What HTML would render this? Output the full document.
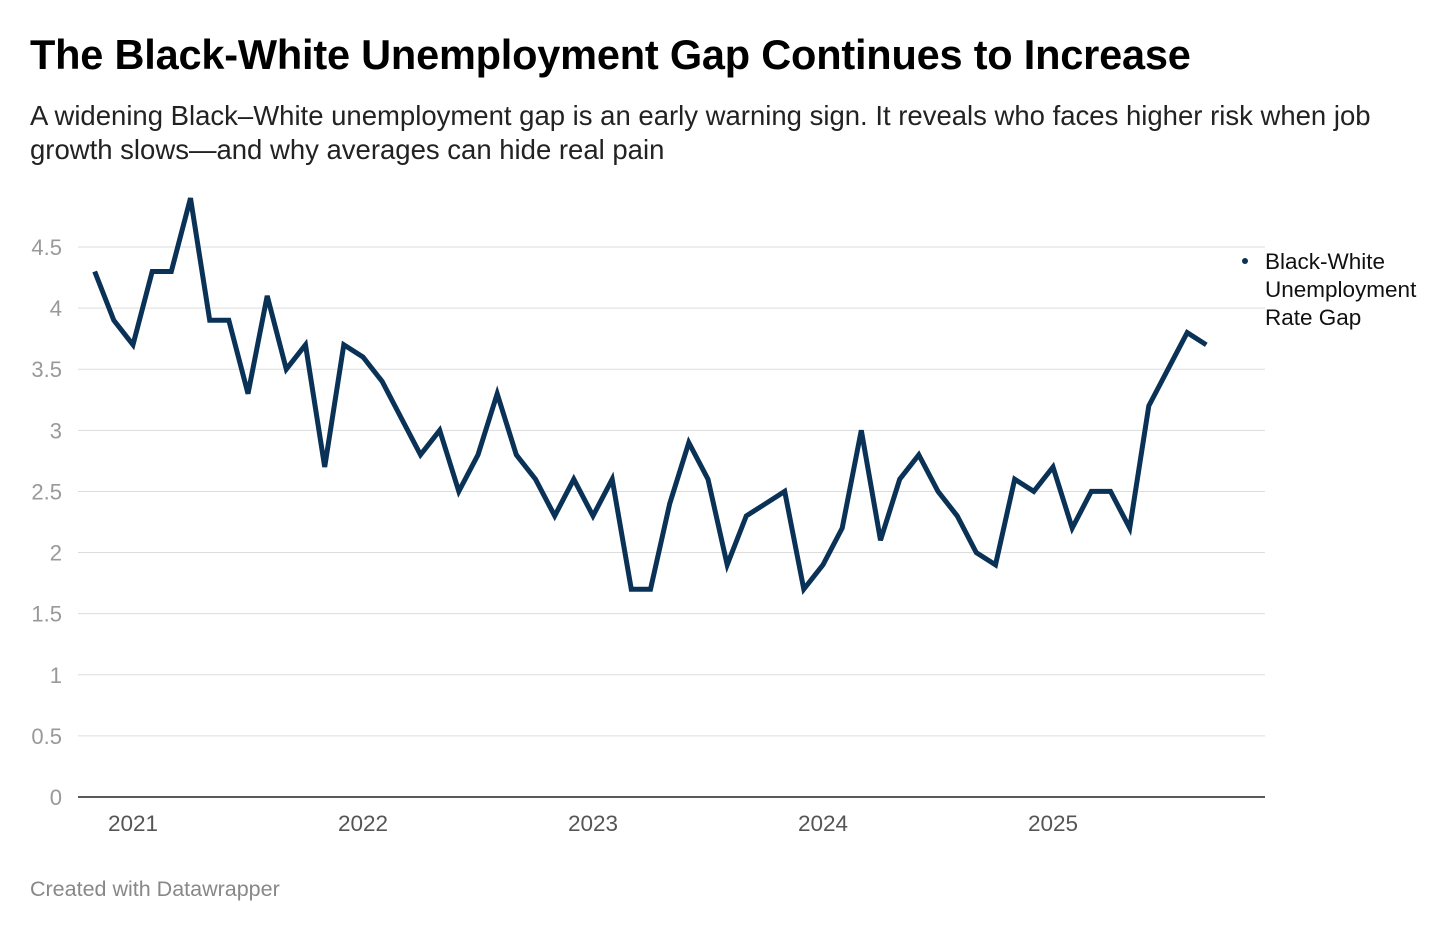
<!DOCTYPE html>
<html><head><meta charset="utf-8">
<style>
body{margin:0;width:1456px;height:933px;background:#fff;font-family:"Liberation Sans",Roboto,sans-serif;overflow:hidden;position:relative}
h1{position:absolute;left:30px;top:31px;margin:0;font-size:41.5px;font-weight:bold;color:#000;letter-spacing:-0.2px}
.sub{position:absolute;left:30px;top:99px;margin:0;font-size:27.5px;line-height:34px;color:#222;width:1400px}
.foot{position:absolute;left:30px;top:877px;font-size:21.5px;color:#888}
svg{position:absolute;left:0;top:0}
</style></head><body>
<h1>The Black-White Unemployment Gap Continues to Increase</h1>
<p class="sub">A widening Black–White unemployment gap is an early warning sign. It reveals who faces higher risk when job growth slows—and why averages can hide real pain</p>
<svg id="chart" width="1456" height="933"></svg>
<div class="foot">Created with Datawrapper</div>
<script>
const values=[4.3,3.9,3.7,4.3,4.3,4.9,3.9,3.9,3.3,4.1,3.5,3.7,2.7,3.7,3.6,3.4,3.1,2.8,3.0,2.5,2.8,3.3,2.8,2.6,2.3,2.6,2.3,2.6,1.7,1.7,2.4,2.9,2.6,1.9,2.3,2.4,2.5,1.7,1.9,2.2,3.0,2.1,2.6,2.8,2.5,2.3,2.0,1.9,2.6,2.5,2.7,2.2,2.5,2.5,2.2,3.2,3.5,3.8,3.7];
const startMonthOffset=-2; // first point Nov 2020 relative to Jan 2021
const yTicks=[0,0.5,1,1.5,2,2.5,3,3.5,4,4.5];
const yTickLabels=["0","0.5","1","1.5","2","2.5","3","3.5","4","4.5"];
const xYears=[2021,2022,2023,2024,2025];
const seriesName=["Black-White","Unemployment","Rate Gap"];
const NS="http://www.w3.org/2000/svg";
const svg=document.getElementById('chart');
const y=v=>797-v*122.22;
const xm=m=>133+m*(230/12); // months from Jan 2021
function mk(t,a){const e=document.createElementNS(NS,t);for(const k in a)e.setAttribute(k,a[k]);svg.appendChild(e);return e;}
yTicks.forEach((v,i)=>{
  if(v>0){const g=mk('line',{x1:78,x2:1265,y1:y(v),y2:y(v),stroke:'#ddd','stroke-width':1});
  
  }
  const t=mk('text',{x:62,y:y(v)+8,'text-anchor':'end','font-size':22,fill:'#999','font-family':'Liberation Sans, sans-serif'});
  t.textContent=yTickLabels[i];
  
  
});
const ax=mk('line',{x1:78,x2:1265,y1:797,y2:797,stroke:'#222','stroke-width':1.5});


xYears.forEach((yr,i)=>{
  const t=mk('text',{x:xm(i*12),y:831,'text-anchor':'middle','font-size':22.5,fill:'#555','font-family':'Liberation Sans, sans-serif'});
  t.textContent=yr;
  
  
});
const d=values.map((v,i)=>(i?'L':'M')+xm(i+startMonthOffset).toFixed(1)+','+y(v).toFixed(1)).join('');
const p=mk('path',{d:d,fill:'none',stroke:'#0a3256','stroke-width':5,'stroke-linejoin':'miter','stroke-linecap':'butt'});


const dot=mk('circle',{cx:1245,cy:261,r:3,fill:'#0a3256'});


seriesName.forEach((s,i)=>{
  const t=mk('text',{x:1265,y:269+i*28,'font-size':22.5,fill:'#111','font-family':'Liberation Sans, sans-serif'});
  t.textContent=s;
  
  
});
</script>
</body></html>
